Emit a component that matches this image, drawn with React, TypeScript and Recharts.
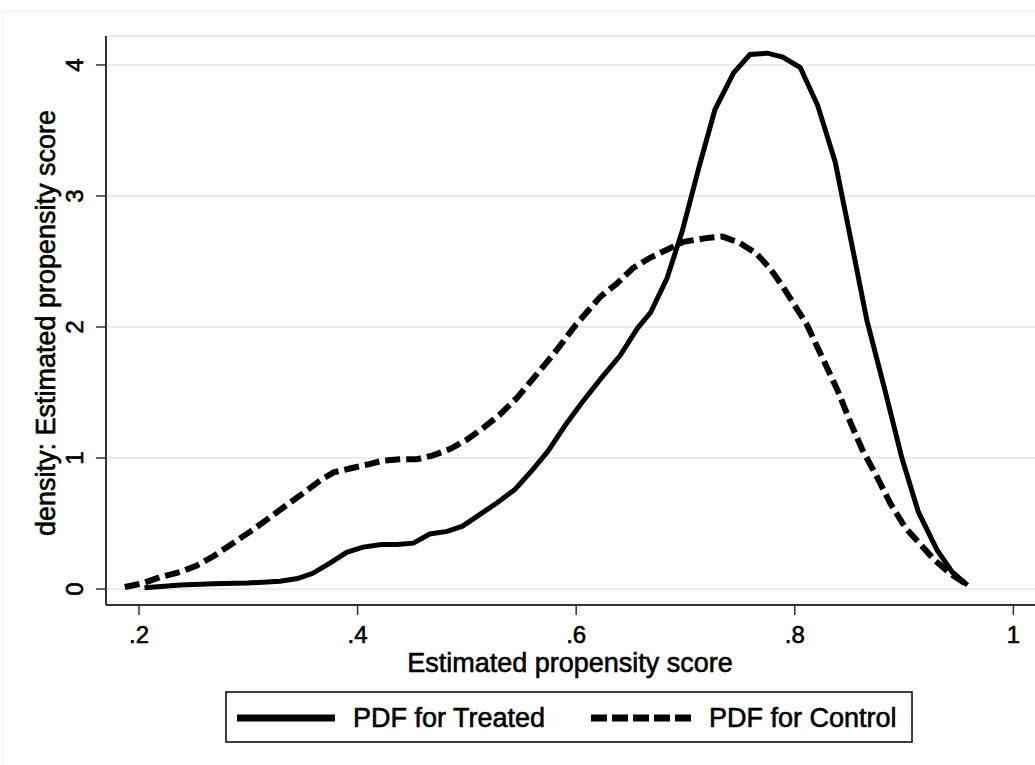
import React from "react";
import { LineChart, Line, XAxis, YAxis, CartesianGrid, Legend, Label } from "recharts";

const treatedX = [0.205, 0.238, 0.268, 0.299, 0.329, 0.345, 0.359, 0.375, 0.390, 0.405, 0.422, 0.436, 0.451, 0.466, 0.482, 0.496, 0.512, 0.528, 0.544, 0.560, 0.574, 0.590, 0.605, 0.622, 0.640, 0.656, 0.668, 0.683, 0.697, 0.713, 0.727, 0.744, 0.759, 0.775, 0.789, 0.805, 0.821, 0.837, 0.851, 0.866, 0.883, 0.898, 0.913, 0.930, 0.944, 0.958];
const treatedY = [0.01, 0.03, 0.04, 0.045, 0.06, 0.08, 0.12, 0.20, 0.28, 0.32, 0.34, 0.34, 0.35, 0.42, 0.44, 0.48, 0.57, 0.66, 0.76, 0.91, 1.05, 1.25, 1.42, 1.60, 1.78, 1.99, 2.11, 2.37, 2.73, 3.24, 3.66, 3.94, 4.08, 4.09, 4.06, 3.98, 3.69, 3.26, 2.68, 2.05, 1.50, 1.00, 0.59, 0.30, 0.13, 0.03];

const controlX = [0.187, 0.204, 0.219, 0.238, 0.253, 0.268, 0.286, 0.302, 0.317, 0.335, 0.350, 0.366, 0.378, 0.393, 0.409, 0.423, 0.439, 0.454, 0.469, 0.485, 0.500, 0.515, 0.530, 0.546, 0.560, 0.580, 0.600, 0.622, 0.637, 0.652, 0.668, 0.683, 0.698, 0.720, 0.734, 0.750, 0.765, 0.777, 0.789, 0.798, 0.811, 0.825, 0.839, 0.851, 0.862, 0.875, 0.887, 0.901, 0.915, 0.928, 0.942, 0.958];
const controlY = [0.015, 0.045, 0.09, 0.13, 0.18, 0.25, 0.35, 0.44, 0.53, 0.64, 0.73, 0.83, 0.89, 0.92, 0.95, 0.98, 0.99, 0.99, 1.02, 1.07, 1.14, 1.23, 1.33, 1.46, 1.60, 1.80, 2.02, 2.23, 2.33, 2.45, 2.53, 2.59, 2.65, 2.68, 2.69, 2.64, 2.56, 2.45, 2.31, 2.19, 2.02, 1.77, 1.52, 1.27, 1.06, 0.86, 0.66, 0.47, 0.34, 0.22, 0.12, 0.03];

const xTicks = [0.2, 0.4, 0.6, 0.8, 1];
const yTicks = [0, 1, 2, 3, 4];
const seriesNames = ["PDF for Treated", "PDF for Control"];
const xTitle = "Estimated propensity score";
const yTitle = "density: Estimated propensity score";

const treatedData = treatedX.map((x, i) => ({ x, y: treatedY[i] }));
const controlData = controlX.map((x, i) => ({ x, y: controlY[i] }));

const FONT = "'Liberation Sans', Arial, Helvetica, sans-serif";
const TXT = { fontFamily: FONT, fill: "#000", stroke: "#000", strokeWidth: 0.6 };

const fmtX = (v: number) => (v === 1 ? "1" : String(v).replace(/^0/, ""));

const XTick = (props: any) => {
  const { x, payload } = props;
  return (
    <text x={x} y={643} textAnchor="middle" fontSize={24} {...TXT}>
      {fmtX(payload.value)}
    </text>
  );
};

const YTick = (props: any) => {
  const { y, payload } = props;
  const tx = 83;
  return (
    <text x={tx} y={y} transform={`rotate(-90 ${tx} ${y})`} textAnchor="middle" fontSize={24} {...TXT}>
      {String(payload.value)}
    </text>
  );
};

const LegendBox = () => (
  <svg width={688} height={52} style={{ display: "block" }}>
    <rect x={1} y={1} width={686} height={50} fill="#fff" stroke="#000" strokeWidth={1.5} />
    <line x1={12} y1={27} x2={110} y2={27} stroke="#000" strokeWidth={7} />
    <text x={128} y={36} fontSize={27} {...TXT}>{seriesNames[0]}</text>
    <line x1={366} y1={27} x2={468} y2={27} stroke="#000" strokeWidth={7} strokeDasharray="16 5" />
    <text x={484} y={36} fontSize={27} {...TXT}>{seriesNames[1]}</text>
  </svg>
);

export default function App() {
  return (
    <div style={{ position: "absolute", left: 0, top: 0, width: 1035, height: 765, overflow: "hidden", background: "#fff" }}>
      <div style={{ position: "absolute", left: 2, top: 11, width: 1100, height: 800, border: "1px solid #f0f0f0" }} />
      <LineChart width={1035} height={765} margin={{ top: 36, right: 0, bottom: 0, left: 0 }}>
        <CartesianGrid horizontal vertical={false} stroke="#e6eef1" strokeWidth={2} />
        <XAxis
          type="number"
          dataKey="x"
          domain={[0.1698, 1.0198]}
          ticks={xTicks}
          allowDataOverflow
          height={160}
          tickSize={10}
          tick={<XTick />}
          axisLine={{ stroke: "#333", strokeWidth: 2 }}
          tickLine={{ stroke: "#333", strokeWidth: 1.5 }}
        >
          <Label
            content={() => (
              <text x={570} y={672} textAnchor="middle" fontSize={27} {...TXT}>
                {xTitle}
              </text>
            )}
          />
        </XAxis>
        <YAxis
          type="number"
          domain={[-0.122, 4.221]}
          ticks={yTicks}
          allowDataOverflow
          width={106}
          tickSize={10}
          tick={<YTick />}
          axisLine={{ stroke: "#333", strokeWidth: 2 }}
          tickLine={{ stroke: "#333", strokeWidth: 1.5 }}
        >
          <Label
            content={() => (
              <text x={55} y={323} transform="rotate(-90 55 323)" textAnchor="middle" fontSize={27} {...TXT}>
                {yTitle}
              </text>
            )}
          />
        </YAxis>
        <Legend
          layout="horizontal"
          verticalAlign="middle"
          align="center"
          wrapperStyle={{ position: "absolute", left: 225, top: 691, width: 688, height: 52 }}
          content={() => <LegendBox />}
        />
        <Line
          data={treatedData}
          dataKey="y"
          name={seriesNames[0]}
          type="linear"
          stroke="#000"
          strokeWidth={5}
          dot={false}
          activeDot={false}
          isAnimationActive={false}
        />
        <Line
          data={controlData}
          dataKey="y"
          name={seriesNames[1]}
          type="linear"
          stroke="#000"
          strokeWidth={6}
          strokeDasharray="15 6"
          dot={false}
          activeDot={false}
          isAnimationActive={false}
        />
      </LineChart>
    </div>
  );
}
